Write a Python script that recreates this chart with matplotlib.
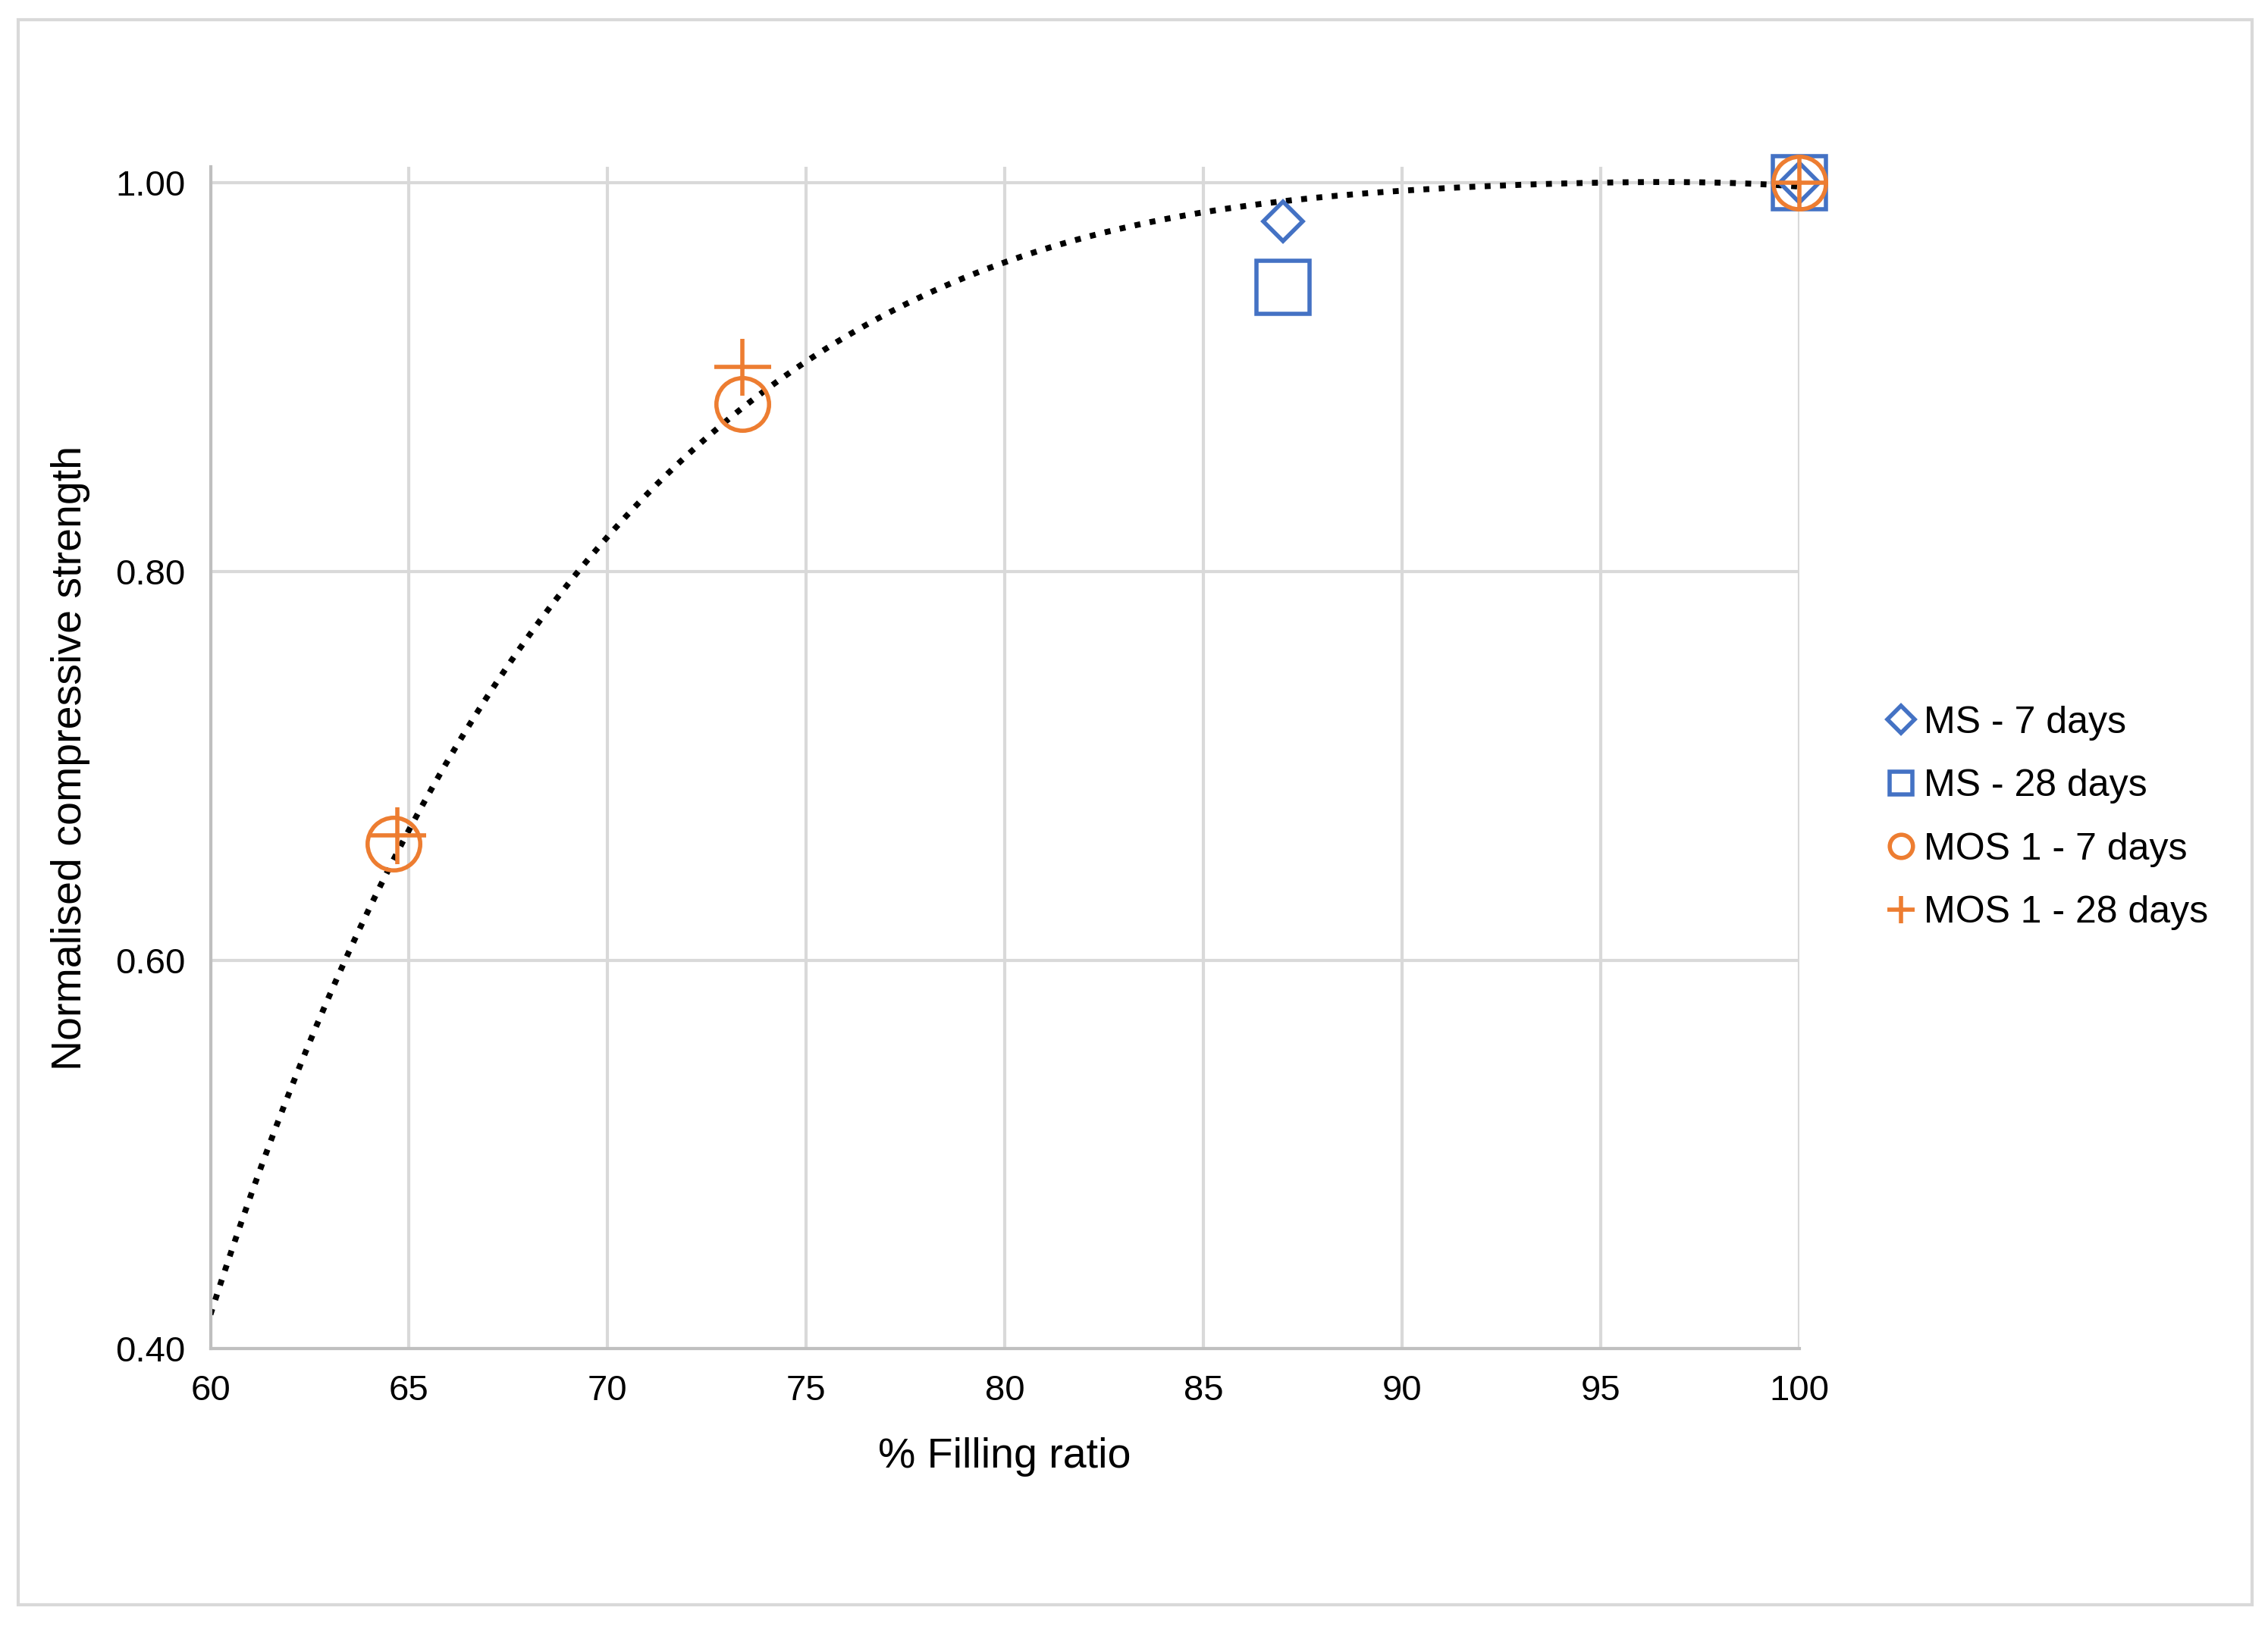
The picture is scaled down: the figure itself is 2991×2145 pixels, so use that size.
import matplotlib
matplotlib.use("Agg")
import matplotlib.pyplot as plt
import matplotlib.lines as mlines
import numpy as np
from matplotlib.patches import Rectangle

ms7_x = [87, 100]; ms7_y = [0.980, 1.000]
ms28_x = [87, 100]; ms28_y = [0.946, 1.000]
mos7_x = [64.6, 73.4, 100]; mos7_y = [0.660, 0.886, 1.000]
mos28_x = [64.7, 73.4, 100]; mos28_y = [0.664, 0.905, 1.000]
trend_x = [60, 62, 65, 70, 75, 80, 85, 90, 95, 100]
trend_y = [0.415, 0.54, 0.66, 0.82, 0.91, 0.956, 0.985, 0.997, 0.999, 0.998]

plt.rcParams['font.family'] = ['Liberation Sans', 'DejaVu Sans']
blue = '#4472C4'; orange = '#ED7D31'
fig = plt.figure(figsize=(14.955, 10.725), dpi=200)
fig.patches.append(Rectangle((0.008, 0.013), 0.985, 0.975, transform=fig.transFigure,
                             fill=False, edgecolor='#d9d9d9', linewidth=1.5))
ax = fig.add_axes([0.0928, 0.1704, 0.7005, 0.727])
xs = np.linspace(60, 100, 300)
coef = np.polyfit(trend_x, trend_y, 6)
ax.plot(xs, np.polyval(coef, xs), linestyle=(0, (1, 1.6)), color='black', linewidth=2.8, zorder=2)
kw = dict(ls='none', mfc='none', mew=2, zorder=3, clip_on=False)
ax.plot(ms7_x, ms7_y, 'D', ms=13, mec=blue, **kw)
ax.plot(ms28_x, ms28_y, 's', ms=25, mec=blue, **kw)
ax.plot(mos7_x, mos7_y, 'o', ms=25, mec=orange, **kw)
ax.plot(mos28_x, mos28_y, '+', ms=27, mec=orange, **kw)
ax.set_xlim(60, 100); ax.set_ylim(0.4, 1.008)
ax.set_xticks(range(60, 101, 5)); ax.set_yticks([0.4, 0.6, 0.8, 1.0])
ax.set_yticklabels(['0.40', '0.60', '0.80', '1.00'])
ax.grid(True, color='#d9d9d9', linewidth=1.5)
for s in ['top', 'right']: ax.spines[s].set_visible(False)
for s in ['left', 'bottom']: ax.spines[s].set_color('#bfbfbf'); ax.spines[s].set_linewidth(1.5)
ax.tick_params(length=0, labelsize=17, pad=12)
ax.set_xlabel('% Filling ratio', fontsize=20, labelpad=14)
ax.set_ylabel('Normalised compressive strength', fontsize=20, labelpad=12)
labels = ['MS - 7 days', 'MS - 28 days', 'MOS 1 - 7 days', 'MOS 1 - 28 days']
hs = [mlines.Line2D([], [], marker=m, ls='none', mfc='none', mec=c, mew=2, ms=s)
      for m, c, s in [('D', blue, 9), ('s', blue, 11), ('o', orange, 11), ('+', orange, 13)]]
fig.legend(hs, labels, loc='center left', bbox_to_anchor=(0.818, 0.497), frameon=False,
           fontsize=18, handlelength=0.6, handletextpad=0.3, labelspacing=0.75)
fig.savefig('out.png', dpi=200)
